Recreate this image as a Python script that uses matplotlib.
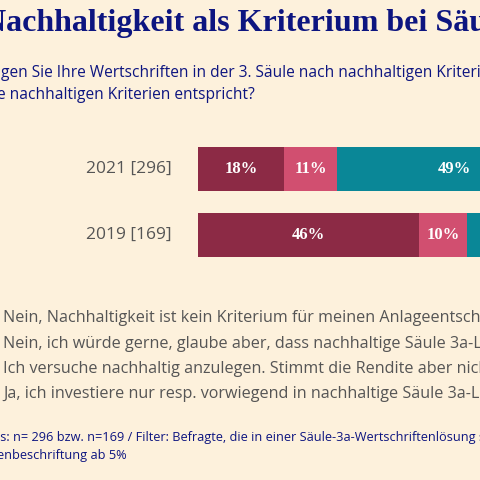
import matplotlib.pyplot as plt

# ---- data ----
years = ["2021 [296]", "2019 [169]"]
series_labels = [
    "Nein, Nachhaltigkeit ist kein Kriterium für meinen Anlageentscheid",
    "Nein, ich würde gerne, glaube aber, dass nachhaltige Säule 3a-Lösungen weniger rentieren",
    "Ich versuche nachhaltig anzulegen. Stimmt die Rendite aber nicht, investiere ich anders",
    "Ja, ich investiere nur resp. vorwiegend in nachhaltige Säule 3a-Lösungen",
]
values = [
    [18, 46],
    [11, 10],
    [49, 35],
    [22, 9],
]
colors = ["#8c2a45", "#d14f70", "#0a8797", "#1c3f6e"]

BG = "#fdf1dc"
NAVY = "#0d1580"
GREY = "#555555"

fig = plt.figure(figsize=(4.8, 4.8), dpi=100, facecolor=BG)


def px(x, y):
    return x / 480, 1 - y / 480


# axes placed in pixel space: 100% = 480 px, starting at x=198
ax = fig.add_axes([198 / 480, 1 - 268 / 480, 480 / 480, 132 / 480])
ax.set_facecolor(BG)
ax.set_xlim(0, 100)
ax.set_ylim(1.5, -0.5)
ax.axis("off")

left = [0, 0]
for vals, col in zip(values, colors):
    ax.barh([0, 1], vals, left=left, height=0.68, color=col, linewidth=0)
    for i, v in enumerate(vals):
        if v >= 5:
            ax.text(left[i] + v / 2, i, f"{v}%", ha="center", va="center",
                    color="white", fontsize=12, fontweight="bold",
                    family="Liberation Serif", clip_on=True)
    left = [l + v for l, v in zip(left, vals)]

for i, lab in enumerate(years):
    ax.text(-5.5, i, lab, ha="right", va="center", color=GREY, fontsize=12.5,
            family="Open Sans", transform=ax.transData)

# title / subtitle
fig.text(*px(-17, 24), "Nachhaltigkeit als Kriterium bei Säule 3a", ha="left",
         va="center", color=NAVY, fontsize=23, fontweight="bold",
         family="Liberation Serif")
fig.text(*px(1, 73), "gen Sie Ihre Wertschriften in der 3. Säule nach nachhaltigen Kriterien an?",
         ha="left", va="center", color=NAVY, fontsize=11.2, family="Open Sans")
fig.text(*px(-3, 95), "e nachhaltigen Kriterien entspricht?",
         ha="left", va="center", color=NAVY, fontsize=11.2, family="Open Sans")

# legend lines
for k, lab in enumerate(series_labels):
    fig.text(*px(3, 318 + k * 25.5), lab, ha="left", va="center", color=GREY,
             fontsize=11.6, family="Open Sans")

# footnote
fig.text(*px(-3, 438), "is: n= 296 bzw. n=169 / Filter: Befragte, die in einer Säule-3a-Wertschriftenlösung sparen",
         ha="left", va="center", color=NAVY, fontsize=9.2, family="Open Sans")
fig.text(*px(-3, 455), "enbeschriftung ab 5%", ha="left", va="center",
         color=NAVY, fontsize=9.2, family="Open Sans")

fig.savefig("out.png", dpi=100, facecolor=BG)
